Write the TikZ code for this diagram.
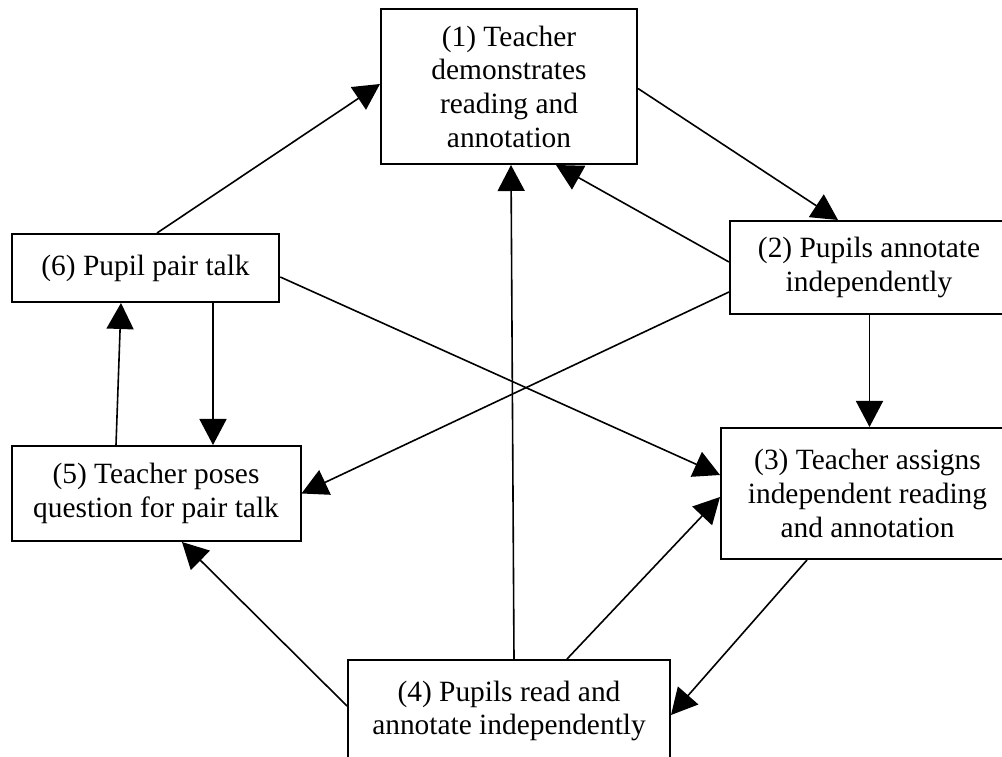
\documentclass[tikz,border=0pt]{standalone}
\usepackage{fontspec}
\setmainfont{Liberation Serif}
\usetikzlibrary{arrows.meta}
\begin{document}
\begin{tikzpicture}[x=1pt,y=1pt,
  stagebox/.style={draw=black, line width=2pt, rectangle, inner sep=0pt, align=center,
    font=\fontsize{29.4pt}{33.7pt}\selectfont},
  flow/.style={line width=1.6pt, -{Triangle[length=26pt,width=27pt]}}]
\useasboundingbox (0,0) rectangle (1002,756);
\fill[white] (0,0) rectangle (1002,756);
\node[stagebox, minimum width=256pt, minimum height=155pt] (n1) at (509,669.5)
  {(1) Teacher\\demonstrates\\reading and\\annotation};
\node[stagebox, minimum width=278pt, minimum height=93pt] (n2) at (869,488.5)
  {(2) Pupils annotate\\independently};
\node[stagebox, minimum width=293pt, minimum height=131pt] (n3) at (867.5,262.5)
  {(3) Teacher assigns\\independent reading\\and annotation};
\node[stagebox, minimum width=322pt, minimum height=102pt] (n4) at (509,45)
  {(4) Pupils read and\\annotate independently};
\node[stagebox, minimum width=289pt, minimum height=95pt] (n5) at (156,262.5)
  {(5) Teacher poses\\question for pair talk};
\node[stagebox, minimum width=267.5pt, minimum height=68pt] (n6) at (145.5,488)
  {(6) Pupil pair talk};
\draw[flow] ([xshift=11.5pt]n6.north) -- ([yshift=2.5pt]n1.west);
\draw[flow] ([yshift=-2pt]n1.east) -- ([xshift=-31pt]n2.north);
\draw[flow] ([yshift=5.5pt]n2.west) -- ([xshift=47pt]n1.south);
\draw[flow] ([xshift=0.5pt]n2.south) -- ([xshift=2pt]n3.north);
\draw[flow] ([yshift=-24.5pt]n2.west) -- (n5.east);
\draw[flow] ([yshift=-9pt]n6.east) -- ([yshift=18.5pt]n3.west);
\draw[flow] ([xshift=5pt]n4.north) -- ([xshift=2pt]n1.south);
\draw[flow] ([xshift=58pt]n4.north) -- ([yshift=-3.5pt]n3.west);
\draw[flow] ([xshift=-60.5pt]n3.south) -- ([yshift=-4pt]n4.east);
\draw[flow] ([yshift=5pt]n4.west) -- ([xshift=26pt]n5.south);
\draw[flow] ([xshift=-40pt]n5.north) -- ([xshift=-24.5pt]n6.south);
\draw[flow] ([xshift=67.5pt]n6.south) -- ([xshift=57pt]n5.north);
\end{tikzpicture}
\end{document}
